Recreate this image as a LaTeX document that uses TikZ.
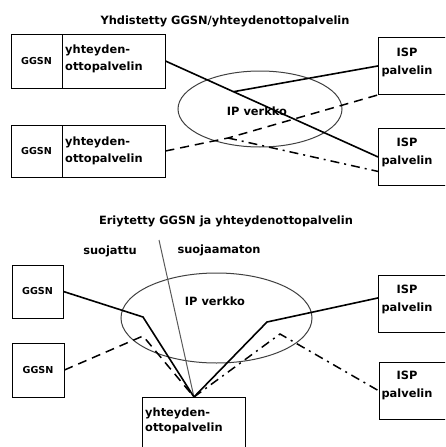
\documentclass[tikz,border=0pt]{standalone}
\usepackage{fontspec}
\setmainfont{DejaVu Sans}
\usetikzlibrary{shapes.geometric,calc}
\begin{document}
\begin{tikzpicture}[x=1pt,y=-1pt,
  box/.style={draw, line width=0.9pt, inner sep=0pt},
  lbl/.style={font=\bfseries\fontsize{11.4}{17}\selectfont, inner sep=0pt},
  small/.style={font=\bfseries\fontsize{9.6}{12}\selectfont},
  isptext/.style={font=\bfseries\fontsize{11.4}{18}\selectfont, inner sep=0pt, align=center},
  link/.style={line width=1.6pt},
  dashlink/.style={line width=1.5pt, dash pattern=on 9pt off 6pt},
  dotlink/.style={line width=1.5pt, dash pattern=on 9pt off 5pt on 2pt off 5pt},
  net/.style={draw=black!75, line width=1pt, ellipse, inner sep=0pt},
  ispbox/.style={box, minimum width=90pt, minimum height=57pt, anchor=north west},
]
\useasboundingbox (0,0) rectangle (445,447);
\clip (0,0) rectangle (445,447);

% ---------- combined GGSN / access server ----------
\node[lbl] (title1) at (225,21) {Yhdistetty GGSN/yhteydenottopalvelin};
\node[net, minimum width=164pt, minimum height=76pt] (net1) at (260,109) {};
\node[lbl] (ip1) at (257,111) {IP verkko};

\node[box, small, minimum width=51pt, minimum height=54pt] (g1) at (36.5,61) {GGSN};
\node[box, minimum width=103pt, minimum height=54pt] (y1) at (113.5,61) {};
\node[lbl, align=left, anchor=west] (y1t) at (65,59) {yhteyden-\\ottopalvelin};

\node[box, small, minimum width=51pt, minimum height=52pt] (g2) at (36.5,151) {GGSN};
\node[box, minimum width=103pt, minimum height=52pt] (y2) at (113.5,151) {};
\node[lbl, align=left, anchor=west] (y2t) at (65,151) {yhteyden-\\ottopalvelin};

\node[ispbox] (i1) at (378,37) {};
\node[isptext] (i1t) at (407,62) {ISP\\palvelin};
\node[ispbox] (i2) at (378,128) {};
\node[isptext] (i2t) at (407,152) {ISP\\palvelin};

\coordinate (p1) at ($(y1.east)!0.32!(i2.west)$);
\coordinate (v1) at (228,138);
\draw[link] (y1.east) -- (i2.west);
\draw[link] (p1) -- (i1.west);
\draw[dashlink] (y2.east) -- (v1) -- (i1.south west);
\draw[dotlink] (v1) -- ($(i2.west)!0.5!(i2.south west)$);

% ---------- separate GGSN and access server ----------
\node[lbl] (title2) at (226,221) {Eriytetty GGSN ja yhteydenottopalvelin};
\node[lbl] (prot) at (110,251) {suojattu};
\node[lbl] (unprot) at (219,250) {suojaamaton};
\node[net, minimum width=191pt, minimum height=90pt] (net2) at (216.5,318) {};
\node[lbl] (ip2) at (215,301) {IP verkko};

\node[box, small, minimum width=51pt, minimum height=53pt] (gb1) at (37.5,291.5) {GGSN};
\node[box, small, minimum width=52pt, minimum height=54pt] (gb2) at (38,370) {GGSN};

\node[box, minimum width=103pt, minimum height=70pt, anchor=north west] (yb) at (142,397) {};
\node[lbl, align=left, anchor=north west, font=\bfseries\fontsize{11.4}{15}\selectfont] (ybt) at (145,408) {yhteyden-\\ottopalvelin};

\node[ispbox] (ib1) at (378,275) {};
\node[isptext] (ib1t) at (407,299) {ISP\\palvelin};
\node[ispbox] (ib2) at (379,362) {};
\node[isptext] (ib2t) at (407,385) {ISP\\palvelin};

\coordinate (sep) at (159,240);
\draw[black!65, line width=1pt] (sep) -- (yb.north);

\coordinate (v2) at (143,317);
\coordinate (v3) at (143,336);
\coordinate (v4) at (267,322);
\coordinate (v5) at (280,334);
\draw[link] (gb1.east) -- (v2) -- (yb.north);
\draw[dashlink] (gb2.east) -- (v3) -- (yb.north);
\draw[link] (yb.north) -- (v4) -- ($(ib1.west)+(0,-6)$);
\draw[dotlink] (yb.north) -- (v5) -- (ib2.west);
\end{tikzpicture}
\end{document}
